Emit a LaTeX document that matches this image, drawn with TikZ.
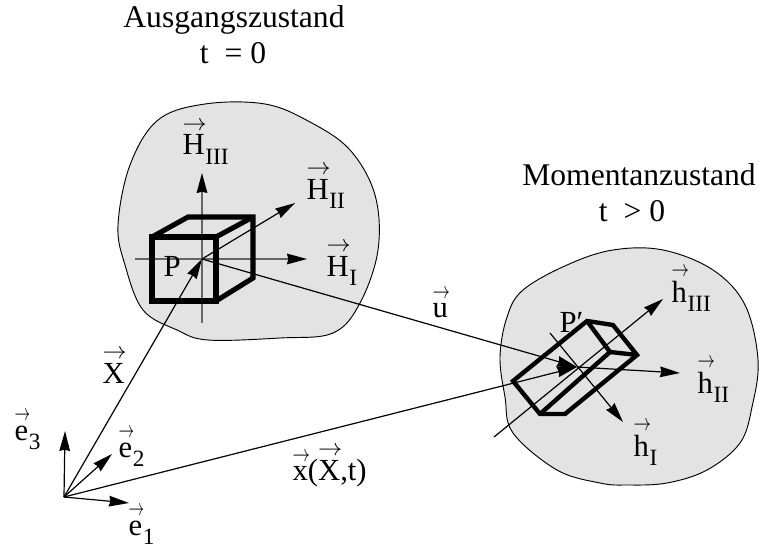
\documentclass[tikz,border=0pt]{standalone}
\usepackage{fontspec}
\setmainfont{Liberation Serif}
\usepackage{xcolor}
\usepackage{graphicx}
\usetikzlibrary{positioning,arrows.meta}
\newcommand{\vecsym}[1]{\setbox0\hbox{#1}\leavevmode\rlap{\raisebox{\dimexpr\ht0+3.5pt\relax}{\resizebox{\dimexpr\wd0+1.5pt\relax}{6.5pt}{$\rightarrow$}}}\box0}
\newcommand{\vecsub}[2]{\vecsym{#1}\raisebox{-0.32em}{\kern0.5pt\fontsize{17.5}{19}\selectfont #2}}
\begin{document}
\begin{tikzpicture}[x=0.75pt,y=-0.75pt,line width=0.9pt,
  title/.style={font=\fontsize{23.7}{26}\selectfont,anchor=base,inner sep=0pt},
  sym/.style={font=\fontsize{23}{25}\selectfont,anchor=base west,inner sep=0pt},
  body/.style={draw,fill=black!11,line width=0.7pt},
  vec/.style={-{Stealth[length=15pt,width=8pt,inset=1pt,black]}},
  axis/.style={draw=black!60,line width=1.1pt},
  solid box/.style={line width=3.8pt,line join=miter}]
\useasboundingbox (0,0) rectangle (759,549);
\draw[body] plot[smooth cycle,tension=0.6] coordinates {(118,225) (130,165) (158,120) (205,104) (265,104) (310,122) (350,150) (375,195) (378,250) (360,303) (333,333) (280,338) (208,340) (177,330) (143,310) (125,265)};
\draw[body] plot[smooth cycle,tension=0.6] coordinates {(500,357) (507,317) (523,290) (567,265) (613,250) (663,250) (713,270) (745,305) (758,360) (752,407) (740,443) (707,470) (667,483) (627,485) (600,483) (557,470) (513,433) (505,397)};
\coordinate (O) at (64,497);
\coordinate (P) at (202,259);
\coordinate (Pd) at (577,367);
\coordinate (e1tip) at (129,503);
\coordinate (e2tip) at (112,454);
\coordinate (e3tip) at (65,431);
\coordinate (HIend) at (135,259);
\coordinate (HItip) at (307,259);
\coordinate (HIIItip) at (202,173);
\coordinate (HIIIend) at (202,323);
\coordinate (HIItip) at (295,203);
\coordinate (hIIIend) at (494,437);
\coordinate (hIIItip) at (663,299);
\coordinate (hIend) at (550,333);
\coordinate (hItip) at (623,422);
\coordinate (hIItip) at (680,373);
\draw[axis,vec] (HIend) -- (HItip);
\draw[axis,vec] (HIIIend) -- (HIIItip);
\draw[vec] (P) -- (HIItip);
\draw[solid box] (152,237) rectangle (216,301);
\draw[solid box] (152,237) -- (188,217) -- (253,217) -- (253,278) -- (216,301);
\draw[solid box] (216,237) -- (253,217);
\draw[vec] (P) -- (Pd);
\draw[vec] (O) -- (Pd);
\draw[vec] (O) -- (P);
\draw[vec] (O) -- (e1tip);
\draw[vec] (O) -- (e2tip);
\draw[vec] (O) -- (e3tip);
\draw[vec] (hIIIend) -- (hIIItip);
\draw[vec] (hIend) -- (hItip);
\draw[vec] (Pd) -- (hIItip);
\draw[solid box,line width=3.3pt] (513,381) -- (587,321) -- (613,325) -- (637,355) -- (565,414) -- (540,414) -- cycle;
\draw[solid box,line width=3.3pt] (587,321) -- (610,352) -- (637,355);
\draw[solid box,line width=3.3pt] (610,352) -- (540,414);
\node[title] (ausgang) at (234,28) {Ausgangszustand};
\node[title] (tnull) at (233,64) {t \ = 0};
\node[title] (moment) at (639,185) {Momentanzustand};
\node[title] (tgross) at (632,221) {t \ > 0};
\node[sym] (HIII) at (182,155) {\vecsub{H}{III}};
\node[sym] (HII) at (306,199) {\vecsub{H}{II}};
\node[sym] (HI) at (326,276) {\vecsub{H}{I}};
\node[sym] (labP) at (163,276) {P};
\node[sym] (labPd) at (559,332) {P′};
\node[sym] (hIII) at (671,302) {\vecsub{h}{III}};
\node[sym] (hII) at (697,393) {\vecsub{h}{II}};
\node[sym] (hI) at (633,456) {\vecsub{h}{I}};
\node[sym] (labX) at (102,383) {\vecsym{X}};
\node[sym] (labu) at (432,317) {\vecsym{u}};
\node[sym] (labx) at (292,480) {\vecsym{x}(\vecsym{X},t)};
\node[sym] (e3) at (14,440) {\vecsub{e}{3}};
\node[sym] (e2) at (118,457) {\vecsub{e}{2}};
\node[sym] (e1) at (128,535) {\vecsub{e}{1}};
\end{tikzpicture}
\end{document}
